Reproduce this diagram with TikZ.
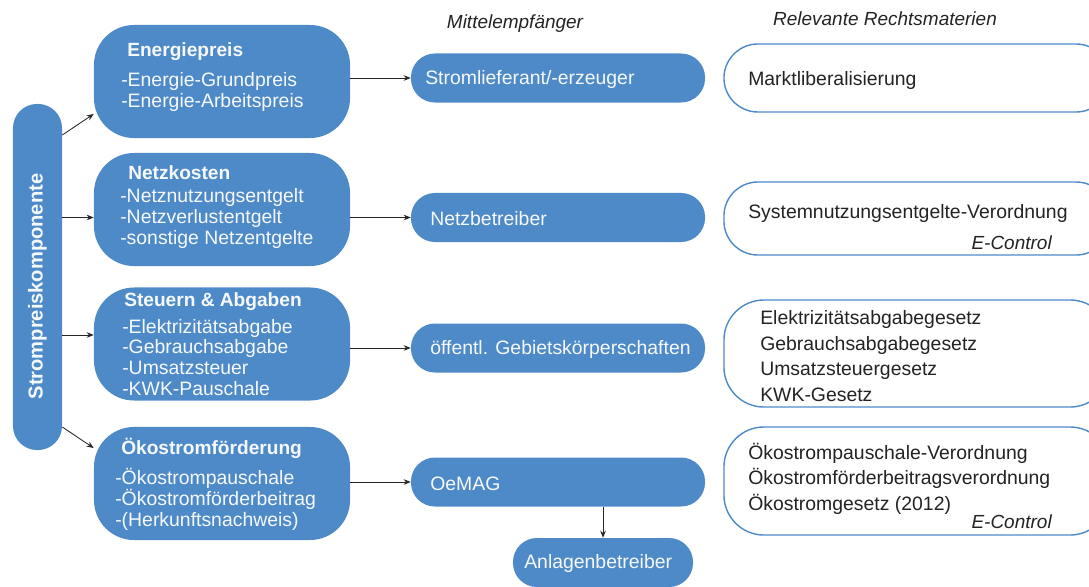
\documentclass[tikz,border=0pt]{standalone}
\usepackage{fontspec}
\setmainfont{Liberation Sans}
\usetikzlibrary{arrows.meta}
\definecolor{blau}{RGB}{79,138,200}
\definecolor{schrift}{RGB}{35,35,35}
\tikzset{
  kompo/.style={fill=blau, rounded corners=1cm, minimum width=6.4cm,
    minimum height=2.825cm, inner sep=0},
  empf/.style={fill=blau, rounded corners=0.6cm, minimum height=1.225cm, inner sep=0},
  recht/.style={draw=blau, line width=1pt, fill=white, minimum width=9.65cm, inner sep=0},
  weiss/.style={text=white!95!blau, anchor=west, inner sep=0, align=left,
    font=\fontsize{13.8}{14.9}\selectfont},
  titel/.style={weiss, font=\fontsize{13.6}{15}\selectfont\bfseries},
  dunkel/.style={text=schrift, anchor=west, inner sep=0, align=left,
    font=\fontsize{13.8}{18.1}\selectfont},
  kopf/.style={text=schrift, inner sep=0, font=\fontsize{13.5}{15}\selectfont\itshape},
  pfeil/.style={-{Stealth[length=5pt,width=4pt]}, line width=0.6pt, draw=black!85}
}

\begin{document}
\begin{tikzpicture}[x=0.025cm,y=-0.025cm]
  \useasboundingbox (0,0) rectangle (1089,586);
  \clip (0,0) rectangle (1089,586);

  % --- Balken links -------------------------------------------------------
  \node[fill=blau, rounded corners=0.6cm, minimum width=1.225cm, minimum height=8.65cm,
    inner sep=0] (spk) at (37.5,277) {};
  \node[rotate=90, text=white!95!blau, inner sep=0,
    font=\fontsize{14.3}{16}\selectfont\bfseries] (spktext) at (37.5,286.5) {Strompreiskomponente};

  % --- Komponenten --------------------------------------------------------
  \node[kompo] (kompo1) at (222,81.5)  {};
  \node[kompo] (kompo2) at (222,209.5) {};
  \node[kompo] (kompo3) at (222,344)   {};
  \node[kompo] (kompo4) at (222,483.5) {};

  \node[titel] (titel1) at (127,52)  {Energiepreis};
  \node[weiss] (liste1) at (121,92)  {-Energie-Grundpreis\\-Energie-Arbeitspreis};
  \node[titel] (titel2) at (128,173) {Netzkosten};
  \node[weiss] (liste2) at (120,218.5) {-Netznutzungsentgelt\\-Netzverlustentgelt\\-sonstige Netzentgelte};
  \node[titel] (titel3) at (124,302) {Steuern \& Abgaben};
  \node[weiss] (liste3) at (122,357.5) {-Elektrizitätsabgabe\\-Gebrauchsabgabe\\-Umsatzsteuer\\-KWK-Pauschale};
  \node[titel] (titel4) at (121,448) {Ökostromförderung};
  \node[weiss] (liste4) at (115,499) {-Ökostrompauschale\\-Ökostromförderbeitrag\\-(Herkunftsnachweis)};

  % --- Mittelempfänger ----------------------------------------------------
  \node[kopf] (kopfm) at (515,24) {Mittelempfänger};
  \node[empf, minimum width=7.35cm] (empf1) at (558,78)    {};
  \node[empf, minimum width=7.35cm] (empf2) at (558,217.5) {};
  \node[empf, minimum width=7.35cm] (empf3) at (558,348)   {};
  \node[empf, minimum width=7.35cm] (empf4) at (558,482)   {};
  \node[empf, minimum width=4.5cm]  (anl)   at (603,562.5) {};

  \node[weiss] (name1) at (425,79)    {Stromlieferant/-erzeuger};
  \node[weiss] (name2) at (430,218.5) {Netzbetreiber};
  \node[weiss] (name3) at (430,349)   {öffentl. Gebietskörperschaften};
  \node[weiss] (name4) at (430,484)   {OeMAG};
  \node[weiss] (name5) at (524,563)   {Anlagenbetreiber};

  % --- Rechtsmaterien -----------------------------------------------------
  \node[kopf] (kopfr) at (885,19) {Relevante Rechtsmaterien};
  \node[recht, rounded corners=0.85cm, minimum height=1.7cm]   (recht1) at (917,78)    {};
  \node[recht, rounded corners=0.85cm, minimum height=1.825cm] (recht2) at (917,218.5) {};
  \node[recht, rounded corners=1cm, minimum height=2.675cm]    (recht3) at (917,353.5) {};
  \node[recht, rounded corners=1cm, minimum height=2.7cm]      (recht4) at (917,481)   {};

  \node[dunkel] (gesetz1) at (748,80)  {Marktliberalisierung};
  \node[dunkel] (gesetz2) at (748,213) {Systemnutzungsentgelte-Verordnung};
  \node[dunkel, anchor=east, font=\fontsize{13.5}{15}\selectfont\itshape] (ec2) at (1052,243) {E-Control};
  \node[dunkel] (gesetz3) at (760,356) {Elektrizitätsabgabegesetz\\Gebrauchsabgabegesetz\\Umsatzsteuergesetz\\KWK-Gesetz};
  \node[dunkel] (gesetz4) at (748,478.5) {Ökostrompauschale-Verordnung\\Ökostromförderbeitragsverordnung\\Ökostromgesetz (2012)};
  \node[dunkel, anchor=east, font=\fontsize{13.5}{15}\selectfont\itshape] (ec4) at (1052,522) {E-Control};

  % --- Pfeile -------------------------------------------------------------
  \draw[pfeil] (spk.east |- 0,135) -- (kompo1.west |- 0,114);
  \draw[pfeil] (spk.east |- empf2) -- (kompo2.west |- empf2);
  \draw[pfeil] (spk.east |- 0,335) -- (kompo3.west |- 0,335);
  \draw[pfeil] (spk.east |- 0,427) -- (kompo4.west |- 0,448);
  \foreach \i in {1,...,4}
    \draw[pfeil] (kompo\i.east |- empf\i) -- (empf\i.west);
  \draw[pfeil] (empf4.south -| anl.north) -- (anl.north);

\end{tikzpicture}
\end{document}
